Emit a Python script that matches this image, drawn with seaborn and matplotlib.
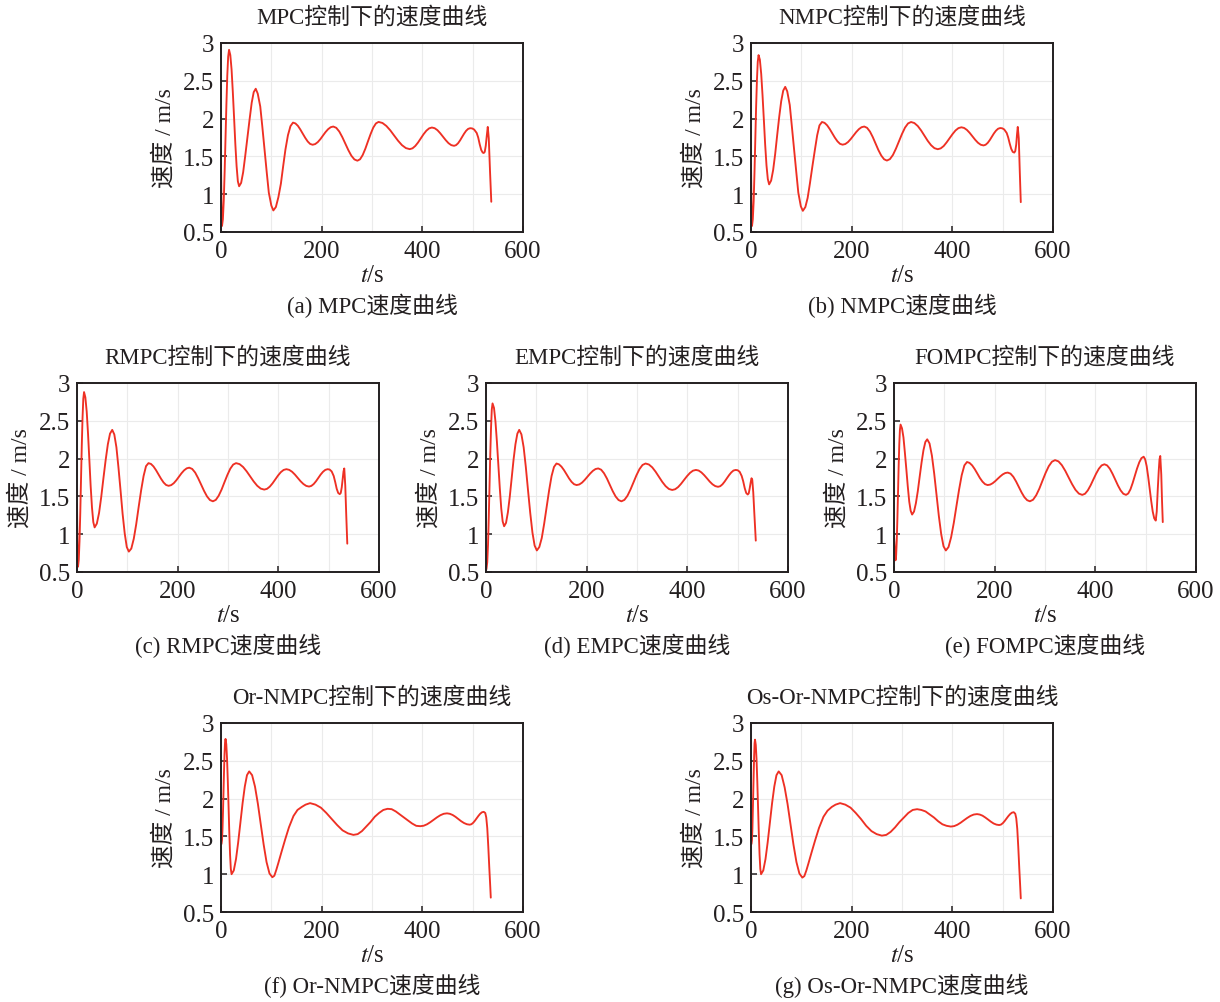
import matplotlib
matplotlib.use("Agg")
import matplotlib.pyplot as plt
from matplotlib.ticker import MultipleLocator, FuncFormatter
import seaborn as sns

# ---------------------------------------------------------------- data
mpc_t = [0, 1, 2, 3.75, 5.5, 7.25, 9, 10.75, 12.5, 14.25, 16,
         18.5, 21, 23.5, 26, 28.5, 31, 33.5, 36,
         40, 44, 48, 52.5, 57, 61, 65, 69,
         73, 78, 82, 86.5, 91, 95, 100, 104,
         109, 114, 119, 123.5, 128, 133, 138, 143,
         147.9, 152.8, 157.6, 162.5, 167.4, 172.3, 177.1, 182,
         187.1, 192.3, 197.4, 202.5, 207.6, 212.8, 217.9, 223,
         229, 235, 241, 247, 253, 259, 265, 271,
         276.3, 281.5, 286.8, 292, 297.3, 302.5, 307.8, 313,
         320.8, 328.5, 336.3, 344, 351.8, 359.5, 367.3, 375,
         380.5, 386, 391.5, 397, 402.5, 408, 413.5, 419,
         424.5, 430, 435.5, 441, 446.5, 452, 457.5, 463,
         467, 471, 475, 479, 483, 487, 491, 495,
         499, 503, 508, 511, 514, 517, 520, 522, 524, 526, 528, 530, 532, 534.5, 537]
mpc_v = [1.40, 0.85, 0.58, 0.67, 0.92, 1.30, 1.75, 2.19, 2.57, 2.82, 2.91,
         2.84, 2.65, 2.35, 2.01, 1.66, 1.37, 1.17, 1.105,
         1.15, 1.29, 1.50, 1.75, 2.00, 2.21, 2.35, 2.395,
         2.33, 2.16, 1.90, 1.59, 1.28, 1.02, 0.85, 0.785,
         0.83, 0.96, 1.14, 1.37, 1.59, 1.78, 1.90, 1.947,
         1.936, 1.904, 1.856, 1.80, 1.745, 1.697, 1.665, 1.654,
         1.663, 1.689, 1.728, 1.775, 1.821, 1.86, 1.886, 1.895,
         1.878, 1.829, 1.755, 1.669, 1.583, 1.509, 1.46, 1.443,
         1.462, 1.518, 1.602, 1.70, 1.797, 1.881, 1.936, 1.956,
         1.942, 1.903, 1.845, 1.776, 1.707, 1.649, 1.61, 1.596,
         1.607, 1.638, 1.684, 1.739, 1.794, 1.84, 1.871, 1.882,
         1.873, 1.847, 1.807, 1.761, 1.715, 1.675, 1.649, 1.64,
         1.649, 1.674, 1.712, 1.757, 1.801, 1.839, 1.864, 1.873,
         1.87, 1.855, 1.81, 1.75, 1.66, 1.585, 1.55, 1.545, 1.56, 1.64, 1.77, 1.89, 1.74, 1.30, 0.90]

nmpc_t = [0, 1, 2, 3.6, 5.3, 6.9, 8.5, 10.1, 11.8, 13.4, 15,
          17.6, 20.3, 22.9, 25.5, 28.1, 30.8, 33.4, 36,
          40, 44, 48, 52, 56, 60, 64, 68,
          72, 77, 81, 85.5, 90, 94, 99, 103,
          108, 112.5, 117, 122, 127, 131.5, 136, 141,
          146.1, 151.3, 156.4, 161.5, 166.6, 171.8, 176.9, 182,
          187.4, 192.8, 198.1, 203.5, 208.9, 214.3, 219.6, 225,
          230.6, 236.3, 241.9, 247.5, 253.1, 258.8, 264.4, 270,
          276, 282, 288, 294, 300, 306, 312, 318,
          324.6, 331.3, 337.9, 344.5, 351.1, 357.8, 364.4, 371,
          376.9, 382.8, 388.6, 394.5, 400.4, 406.3, 412.1, 418,
          423.5, 429, 434.5, 440, 445.5, 451, 456.5, 462,
          466.1, 470.3, 474.4, 478.5, 482.6, 486.8, 490.9, 495,
          499, 503, 508, 511, 514, 517, 520, 523, 525, 527, 528.5, 530, 532, 534, 536]
nmpc_v = [1.40, 0.85, 0.58, 0.67, 0.91, 1.28, 1.71, 2.14, 2.51, 2.75, 2.84,
          2.78, 2.59, 2.31, 1.99, 1.66, 1.38, 1.20, 1.13,
          1.18, 1.32, 1.53, 1.78, 2.02, 2.23, 2.37, 2.42,
          2.36, 2.18, 1.91, 1.60, 1.29, 1.02, 0.84, 0.78,
          0.83, 0.95, 1.14, 1.37, 1.59, 1.78, 1.91, 1.955,
          1.944, 1.911, 1.862, 1.805, 1.748, 1.699, 1.666, 1.655,
          1.664, 1.69, 1.729, 1.775, 1.821, 1.86, 1.886, 1.895,
          1.878, 1.829, 1.756, 1.67, 1.584, 1.511, 1.462, 1.445,
          1.464, 1.519, 1.603, 1.70, 1.797, 1.881, 1.936, 1.955,
          1.941, 1.902, 1.844, 1.775, 1.706, 1.648, 1.609, 1.595,
          1.606, 1.637, 1.685, 1.74, 1.795, 1.843, 1.874, 1.885,
          1.876, 1.85, 1.811, 1.765, 1.719, 1.68, 1.654, 1.645,
          1.654, 1.679, 1.716, 1.76, 1.804, 1.841, 1.866, 1.875,
          1.872, 1.857, 1.81, 1.75, 1.67, 1.60, 1.56, 1.55, 1.57, 1.66, 1.79, 1.89, 1.74, 1.30, 0.895]

rmpc_t = [0, 1, 2, 3.5, 5, 6.5, 8, 9.5, 11, 12.5, 14,
          16.6, 19.3, 21.9, 24.5, 27.1, 29.8, 32.4, 35,
          39.4, 43.8, 48.1, 52.5, 56.9, 61.3, 65.6, 70,
          74.1, 78.3, 82.4, 86.5, 90.6, 94.8, 98.9, 103,
          107.9, 112.8, 117.6, 122.5, 127.4, 132.3, 137.1, 142,
          147, 152, 157, 162, 167, 172, 177, 182,
          187.1, 192.3, 197.4, 202.5, 207.6, 212.8, 217.9, 223,
          228.9, 234.8, 240.6, 246.5, 252.4, 258.3, 264.1, 270,
          275.8, 281.5, 287.3, 293, 298.8, 304.5, 310.3, 316,
          323, 330, 337, 344, 351, 358, 365, 372,
          377.5, 383, 388.5, 394, 399.5, 405, 410.5, 416,
          421.6, 427.3, 432.9, 438.5, 444.1, 449.8, 455.4, 461,
          465.6, 470.3, 474.9, 479.5, 484.1, 488.8, 493.4, 498,
          502, 506, 510, 513, 516, 519, 522, 524, 526, 528, 529.5, 531, 533, 535, 537]
rmpc_v = [1.40, 0.80, 0.57, 0.66, 0.91, 1.28, 1.73, 2.17, 2.54, 2.79, 2.88,
          2.81, 2.62, 2.33, 1.99, 1.64, 1.35, 1.16, 1.09,
          1.14, 1.28, 1.49, 1.74, 1.98, 2.19, 2.33, 2.38,
          2.32, 2.15, 1.88, 1.58, 1.27, 1.01, 0.83, 0.77,
          0.81, 0.94, 1.13, 1.36, 1.58, 1.77, 1.90, 1.94,
          1.929, 1.896, 1.847, 1.79, 1.733, 1.684, 1.651, 1.64,
          1.649, 1.675, 1.714, 1.76, 1.806, 1.845, 1.871, 1.88,
          1.863, 1.815, 1.742, 1.658, 1.573, 1.50, 1.452, 1.435,
          1.454, 1.509, 1.591, 1.688, 1.784, 1.866, 1.921, 1.94,
          1.927, 1.889, 1.832, 1.765, 1.698, 1.641, 1.603, 1.59,
          1.60, 1.629, 1.673, 1.725, 1.777, 1.821, 1.85, 1.86,
          1.851, 1.826, 1.789, 1.745, 1.701, 1.664, 1.639, 1.63,
          1.639, 1.664, 1.701, 1.745, 1.789, 1.826, 1.851, 1.86,
          1.855, 1.83, 1.77, 1.69, 1.60, 1.545, 1.53, 1.545, 1.62, 1.74, 1.83, 1.87, 1.64, 1.24, 0.875]

empc_t = [0, 1, 2.5, 4, 5.5, 7, 8.5, 10, 11.5, 13,
          15.9, 18.8, 21.6, 24.5, 27.4, 30.3, 33.1, 36,
          39.8, 43.5, 47.3, 51, 54.8, 58.5, 62.3, 66,
          70.4, 74.8, 79.1, 83.5, 87.9, 92.3, 96.6, 101,
          105.9, 110.8, 115.6, 120.5, 125.4, 130.3, 135.1, 140,
          145, 150, 155, 160, 165, 170, 175, 180,
          185.4, 190.8, 196.1, 201.5, 206.9, 212.3, 217.6, 223,
          228.8, 234.5, 240.3, 246, 251.8, 257.5, 263.3, 269,
          275, 281, 287, 293, 299, 305, 311, 317,
          323.6, 330.3, 336.9, 343.5, 350.1, 356.8, 363.4, 370,
          375.9, 381.8, 387.6, 393.5, 399.4, 405.3, 411.1, 417,
          422.5, 428, 433.5, 439, 444.5, 450, 455.5, 461,
          465.4, 469.8, 474.1, 478.5, 482.9, 487.3, 491.6, 496,
          500, 504, 508, 511, 514, 517, 520, 522, 524, 526, 527.5, 529, 531, 533, 536]
empc_v = [0.52, 0.545, 0.63, 0.86, 1.22, 1.64, 2.06, 2.41, 2.65, 2.73,
          2.67, 2.49, 2.23, 1.92, 1.61, 1.34, 1.17, 1.105,
          1.15, 1.29, 1.50, 1.74, 1.99, 2.19, 2.33, 2.38,
          2.32, 2.15, 1.89, 1.58, 1.28, 1.02, 0.85, 0.785,
          0.83, 0.95, 1.14, 1.36, 1.58, 1.77, 1.89, 1.935,
          1.924, 1.893, 1.847, 1.793, 1.738, 1.692, 1.661, 1.65,
          1.658, 1.682, 1.718, 1.76, 1.802, 1.838, 1.862, 1.87,
          1.853, 1.806, 1.736, 1.653, 1.569, 1.499, 1.452, 1.435,
          1.454, 1.508, 1.59, 1.685, 1.781, 1.862, 1.916, 1.935,
          1.922, 1.884, 1.827, 1.76, 1.693, 1.636, 1.598, 1.585,
          1.595, 1.624, 1.667, 1.718, 1.768, 1.811, 1.84, 1.85,
          1.842, 1.817, 1.781, 1.739, 1.696, 1.66, 1.636, 1.627,
          1.635, 1.66, 1.696, 1.739, 1.781, 1.817, 1.842, 1.85,
          1.846, 1.825, 1.77, 1.70, 1.61, 1.545, 1.525, 1.54, 1.61, 1.69, 1.74, 1.72, 1.55, 1.29, 0.915]

fompc_t = [0, 1.5, 3, 4.25, 5.5, 6.75, 8, 9.25, 10.5, 11.75, 13,
           15.9, 18.8, 21.6, 24.5, 27.4, 30.3, 33.1, 36,
           39.8, 43.5, 47.3, 51, 54.8, 58.5, 62.3, 66,
           70.6, 75.3, 79.9, 84.5, 89.1, 93.8, 98.4, 103,
           108.3, 113.5, 118.8, 124, 129.3, 134.5, 139.8, 145,
           150.1, 155.3, 160.4, 165.5, 170.6, 175.8, 180.9, 186,
           191, 196, 201, 206, 211, 216, 221, 226,
           231.5, 237, 242.5, 248, 253.5, 259, 264.5, 270,
           276.3, 282.5, 288.8, 295, 301.3, 307.5, 313.8, 320,
           326.8, 333.5, 340.3, 347, 353.8, 360.5, 367.3, 374,
           379.5, 385, 390.5, 396, 401.5, 407, 412.5, 418,
           423.4, 428.8, 434.1, 439.5, 444.9, 450.3, 455.6, 461,
           465.4, 469.8, 474.1, 478.5, 482.9, 487.3, 491.6, 496,
           499, 502, 505, 508, 511, 514, 517, 520,
           522, 524, 526, 527.5, 529, 531, 532.5, 534]
fompc_v = [0.98, 0.80, 0.655, 0.72, 0.92, 1.21, 1.55, 1.90, 2.19, 2.38, 2.45,
           2.40, 2.28, 2.08, 1.86, 1.63, 1.43, 1.31, 1.26,
           1.30, 1.41, 1.57, 1.76, 1.95, 2.11, 2.22, 2.255,
           2.20, 2.04, 1.80, 1.52, 1.24, 1.00, 0.84, 0.785,
           0.83, 0.96, 1.15, 1.37, 1.59, 1.78, 1.91, 1.955,
           1.943, 1.91, 1.861, 1.803, 1.744, 1.695, 1.662, 1.65,
           1.656, 1.674, 1.701, 1.733, 1.764, 1.791, 1.809, 1.815,
           1.801, 1.76, 1.698, 1.625, 1.552, 1.49, 1.45, 1.435,
           1.456, 1.515, 1.603, 1.708, 1.812, 1.90, 1.959, 1.98,
           1.963, 1.913, 1.838, 1.75, 1.662, 1.587, 1.537, 1.52,
           1.535, 1.579, 1.645, 1.723, 1.80, 1.866, 1.91, 1.925,
           1.91, 1.866, 1.80, 1.723, 1.645, 1.579, 1.535, 1.52,
           1.539, 1.594, 1.676, 1.773, 1.869, 1.951, 2.006, 2.025,
           1.99, 1.90, 1.76, 1.60, 1.44, 1.30, 1.21, 1.18,
           1.30, 1.59, 1.84, 1.99, 2.035, 1.79, 1.44, 1.16]

or_nmpc_t = [0, 1, 2, 3, 4, 5, 6, 7, 8, 9,
             10.5, 12, 13.5, 15, 16.5, 18, 19.5, 21,
             25.4, 29.8, 34.1, 38.5, 42.9, 47.3, 51.6, 56,
             61.8, 67.5, 73.3, 79, 84.8, 90.5, 96.3, 102,
             106, 110, 114, 120, 127.5, 135, 144, 152, 160.5, 168, 177,
             187.8, 198.5, 209.3, 220, 230.8, 241.5, 252.3, 263,
             271.5, 280, 288.5, 297, 305.5, 314, 322.5, 331,
             339.1, 347.3, 355.4, 363.5, 371.6, 379.8, 387.9, 396,
             402.6, 409.3, 415.9, 422.5, 429.1, 435.8, 442.4, 449,
             454.6, 460.3, 465.9, 471.5, 477.1, 482.8, 488.4, 494,
             497.5, 501, 504.5, 508, 511.5, 515, 518.5, 522,
             525, 527, 529, 531, 533, 535, 536]
or_nmpc_v = [1.40, 1.40, 1.45, 1.60, 1.83, 2.10, 2.36, 2.59, 2.74, 2.79,
             2.72, 2.53, 2.24, 1.90, 1.55, 1.26, 1.07, 1.00,
             1.05, 1.20, 1.42, 1.68, 1.94, 2.16, 2.31, 2.36,
             2.31, 2.16, 1.93, 1.66, 1.39, 1.16, 1.01, 0.96,
             0.98, 1.06, 1.15, 1.29, 1.46, 1.62, 1.77, 1.85, 1.89, 1.92, 1.94,
             1.92, 1.88, 1.81, 1.73, 1.65, 1.58, 1.54, 1.52,
             1.53, 1.57, 1.63, 1.69, 1.76, 1.81, 1.85, 1.865,
             1.86, 1.83, 1.79, 1.75, 1.71, 1.67, 1.64, 1.635,
             1.641, 1.66, 1.688, 1.72, 1.752, 1.78, 1.799, 1.805,
             1.799, 1.783, 1.759, 1.73, 1.701, 1.677, 1.661, 1.655,
             1.661, 1.68, 1.708, 1.74, 1.772, 1.80, 1.819, 1.825,
             1.81, 1.75, 1.61, 1.37, 1.09, 0.83, 0.69]

os_or_nmpc_t = [0, 1, 1.9, 2.8, 3.6, 4.5, 5.4, 6.3, 7.1, 8,
                9.5, 11, 12.5, 14, 15.5, 17, 18.5, 20,
                24.4, 28.8, 33.1, 37.5, 41.9, 46.3, 50.6, 55,
                60.9, 66.8, 72.6, 78.5, 84.4, 90.3, 96.1, 102,
                106, 110, 114, 120, 127.5, 135, 144, 152, 160.5, 168, 177,
                187.4, 197.8, 208.1, 218.5, 228.9, 239.3, 249.6, 260,
                268.8, 277.5, 286.3, 295, 303.8, 312.5, 321.3, 330,
                338.4, 346.8, 355.1, 363.5, 371.9, 380.3, 388.6, 397,
                403.5, 410, 416.5, 423, 429.5, 436, 442.5, 449,
                454.5, 460, 465.5, 471, 476.5, 482, 487.5, 493,
                496.6, 500.3, 503.9, 507.5, 511.1, 514.8, 518.4, 522,
                525, 527, 529, 531, 533, 535, 536]
os_or_nmpc_v = [1.40, 1.40, 1.45, 1.60, 1.83, 2.09, 2.35, 2.58, 2.73, 2.78,
                2.71, 2.52, 2.23, 1.89, 1.55, 1.26, 1.07, 1.00,
                1.05, 1.20, 1.42, 1.68, 1.94, 2.16, 2.31, 2.36,
                2.31, 2.15, 1.93, 1.66, 1.39, 1.16, 1.01, 0.955,
                0.975, 1.05, 1.14, 1.28, 1.45, 1.61, 1.76, 1.84, 1.89, 1.92, 1.94,
                1.92, 1.88, 1.81, 1.73, 1.64, 1.57, 1.53, 1.51,
                1.52, 1.56, 1.62, 1.69, 1.75, 1.81, 1.85, 1.86,
                1.85, 1.83, 1.79, 1.75, 1.70, 1.66, 1.64, 1.63,
                1.636, 1.654, 1.681, 1.713, 1.744, 1.771, 1.789, 1.795,
                1.789, 1.774, 1.75, 1.723, 1.695, 1.671, 1.656, 1.65,
                1.656, 1.675, 1.703, 1.735, 1.767, 1.795, 1.814, 1.82,
                1.80, 1.74, 1.60, 1.36, 1.08, 0.82, 0.68]

letters = ["a", "b", "c", "d", "e", "f", "g"]
methods = ["MPC", "NMPC", "RMPC", "EMPC", "FOMPC", "Or-NMPC", "Os-Or-NMPC"]
times = [mpc_t, nmpc_t, rmpc_t, empc_t, fompc_t, or_nmpc_t, os_or_nmpc_t]
speeds = [mpc_v, nmpc_v, rmpc_v, empc_v, fompc_v, or_nmpc_v, os_or_nmpc_v]

# ---------------------------------------------------------------- style
sns.set_style("white")
plt.rcParams["font.family"] = ["Liberation Serif", "Noto Sans CJK SC"]
plt.rcParams["mathtext.fontset"] = "stix"
plt.rcParams["axes.unicode_minus"] = False

LINE = "#ee3024"
INK = "#231f20"
GRID = "#ebebeb"

W, H = 1220, 1003
AX_W, AX_H = 302, 189
# upper-left corner of each panel, in pixels
corners = [(221, 44), (751, 44),
           (77, 384), (486, 384), (894, 384),
           (221, 724), (751, 724)]

fig = plt.figure(figsize=(W / 100, H / 100), dpi=100)
fig.patch.set_facecolor("white")

for letter, name, t, v, (left, top) in zip(letters, methods, times, speeds, corners):
    ax = fig.add_axes([left / W, 1 - (top + AX_H) / H, AX_W / W, AX_H / H])
    ax.set_axisbelow(True)
    sns.lineplot(x=t, y=v, ax=ax, color=LINE, linewidth=1.35,
                 sort=False, estimator=None)

    ax.set_xlim(0, 600)
    ax.set_ylim(0.5, 3)
    ax.xaxis.set_major_locator(MultipleLocator(200))
    ax.xaxis.set_minor_locator(MultipleLocator(100))
    ax.yaxis.set_major_locator(MultipleLocator(0.5))
    ax.yaxis.set_major_formatter(FuncFormatter(lambda val, _: f"{val:g}"))

    ax.grid(True, which="major", color=GRID, linewidth=0.8)
    ax.grid(True, which="minor", axis="x", color=GRID, linewidth=0.8)

    ax.tick_params(which="major", direction="in", length=4, width=1.1,
                   color=INK, labelcolor=INK, labelsize=18,
                   top=False, right=False, bottom=True, left=True)
    ax.tick_params(axis="x", which="major", pad=6)
    ax.tick_params(axis="y", which="major", pad=5)
    ax.tick_params(which="minor", length=0)

    for sp in ax.spines.values():
        sp.set_visible(True)
        sp.set_color(INK)
        sp.set_linewidth(1.4)

    ax.set_xlabel("")
    ax.set_ylabel("")
    ax.text(0.5, 1 + 26 / AX_H, f"{name}控制下的速度曲线", transform=ax.transAxes,
            ha="center", va="center", fontsize=16.5, color=INK)
    ax.text(-57 / AX_W, 0.5, "速度 / m/s", transform=ax.transAxes, rotation=90,
            ha="center", va="center", fontsize=17, color=INK)
    ax.text(0.5, -43 / AX_H, "$t$/s", transform=ax.transAxes,
            ha="center", va="center", fontsize=18, color=INK)
    ax.text(0.5, -73 / AX_H, f"({letter}) {name}速度曲线", transform=ax.transAxes,
            ha="center", va="center", fontsize=16.5, color=INK)

fig.savefig("out.png", dpi=100, facecolor="white")
